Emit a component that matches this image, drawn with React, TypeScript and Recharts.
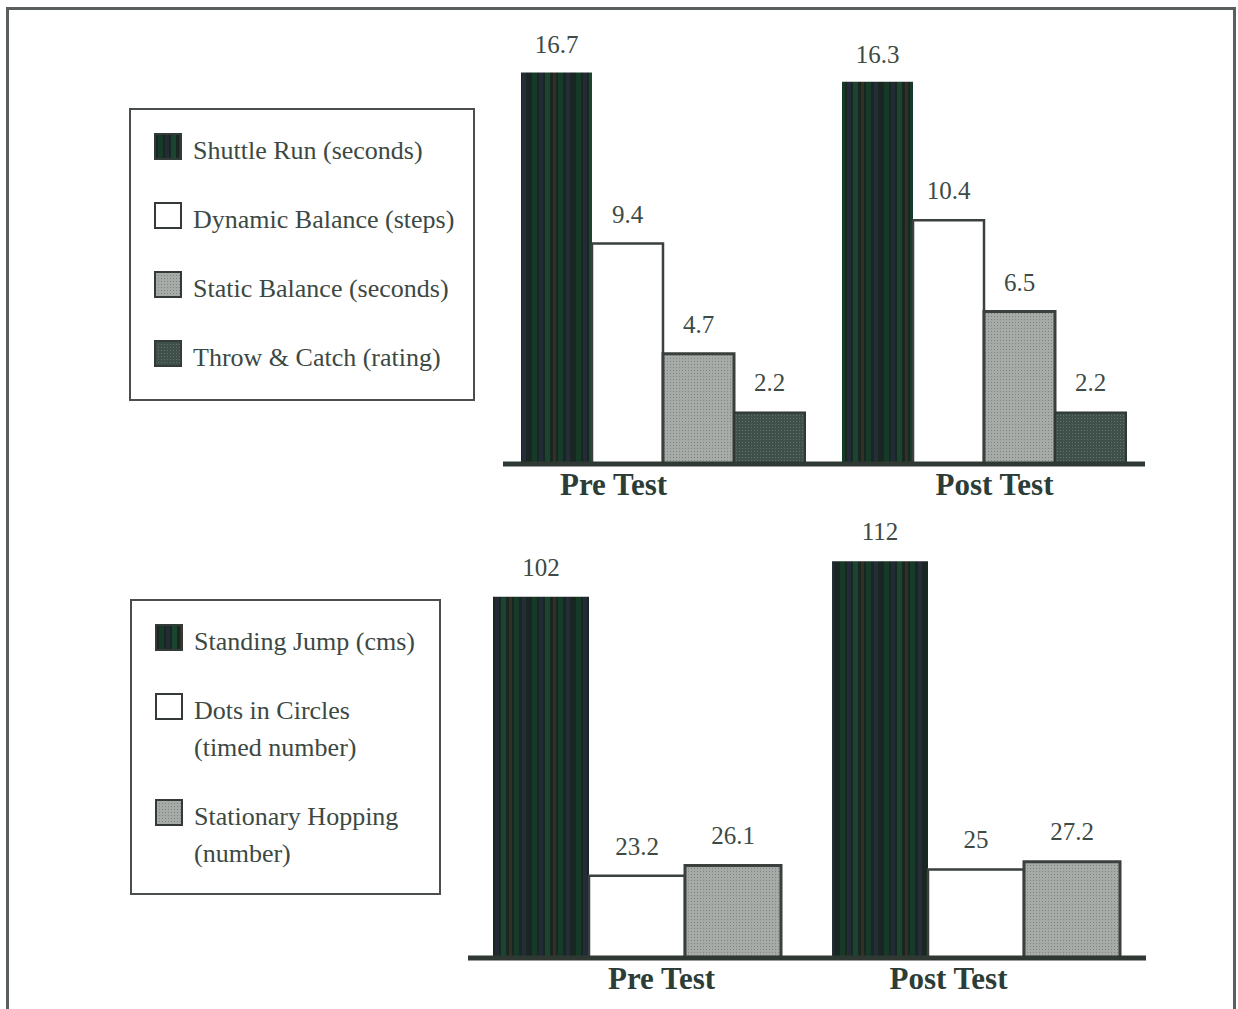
import React from 'react';
import { Bar, BarChart, LabelList, Legend, XAxis, YAxis } from 'recharts';

// categories
const tests = ['Pre Test', 'Post Test'];

// top chart series
const shuttleRun = [16.7, 16.3];
const dynamicBalance = [9.4, 10.4];
const staticBalance = [4.7, 6.5];
const throwCatch = [2.2, 2.2];

// bottom chart series
const standingJump = [102, 112];
const dotsInCircles = [23.2, 25];
const stationaryHopping = [26.1, 27.2];

const topData = tests.map((test, i) => ({
	test,
	shuttle: shuttleRun[i],
	dynamic: dynamicBalance[i],
	static: staticBalance[i],
	throwCatch: throwCatch[i],
}));

const bottomData = tests.map((test, i) => ({
	test,
	jump: standingJump[i],
	dots: dotsInCircles[i],
	hopping: stationaryHopping[i],
}));

const TOP_KEYS = ['shuttle', 'dynamic', 'static', 'throwCatch'];
const BOTTOM_KEYS = ['jump', 'dots', 'hopping'];

const SERIF = '"Liberation Serif", "Times New Roman", serif';
const AXIS = '#2f3833';
const OUTLINE = '#3a403d';
const LABEL = '#3d4a45';

// small nudges so the category labels sit where the original put them
const TOP_TICK_SHIFT = [-50, 10];
const BOTTOM_TICK_SHIFT = [24, -28];

const Patterns = () => (
	<svg width={0} height={0} style={{ position: 'absolute' }}>
		<defs>
			<pattern id='stripes' patternUnits='userSpaceOnUse' width={44} height={8}>
				<rect x={0} y={0} width={44} height={8} fill='#1a2621' />
				<rect x={4} y={0} width={5} height={8} fill='#173a28' />
				<rect x={11} y={0} width={4} height={8} fill='#222b36' />
				<rect x={17} y={0} width={5} height={8} fill='#1a4530' />
				<rect x={25} y={0} width={3} height={8} fill='#35301f' />
				<rect x={30} y={0} width={5} height={8} fill='#163b2a' />
				<rect x={38} y={0} width={4} height={8} fill='#242d38' />
			</pattern>
			<pattern id='grayDots' patternUnits='userSpaceOnUse' width={3} height={3}>
				<rect x={0} y={0} width={3} height={3} fill='#a6aba8' />
				<rect x={1} y={1} width={1} height={1} fill='#7e8582' />
			</pattern>
			<pattern id='darkDots' patternUnits='userSpaceOnUse' width={3} height={3}>
				<rect x={0} y={0} width={3} height={3} fill='#3f4f4a' />
				<rect x={1} y={1} width={1} height={1} fill='#64716c' />
			</pattern>
		</defs>
	</svg>
);

const LegendBox = ({ payload, box, order }: any) => {
	const items = [...(payload || [])].sort((a: any, b: any) => order.indexOf(a.dataKey) - order.indexOf(b.dataKey));
	return (
		<div
			style={{
				boxSizing: 'border-box',
				width: box.width,
				height: box.height,
				border: '2px solid #4a4f4c',
				background: '#fff',
				paddingTop: 22,
				paddingLeft: 23,
				fontFamily: SERIF,
				fontSize: 26,
				lineHeight: '37px',
				color: '#3c4843',
			}}
		>
			{items.map((entry: any) => (
				<div key={entry.value} style={{ display: 'flex', alignItems: 'flex-start', marginBottom: 32 }}>
					<svg width={28} height={27} style={{ flex: 'none', marginTop: 1, marginRight: 11 }}>
						<rect x={1} y={1} width={26} height={25} fill={entry.color} stroke='#333a37' strokeWidth={2} />
					</svg>
					<span style={{ whiteSpace: 'pre-line' }}>{entry.value}</span>
				</div>
			))}
		</div>
	);
};

const XTick = ({ x, y, payload, index, shifts }: any) => (
	<text
		x={x + (shifts[index] || 0)}
		y={y}
		dy={23}
		textAnchor='middle'
		fill='#2c3d38'
		fontFamily={SERIF}
		fontWeight='bold'
		fontSize={31}
	>
		{payload.value}
	</text>
);

const valueLabel = { position: 'top' as const, fill: LABEL, fontSize: 25, fontFamily: SERIF };

const TopChart = () => (
	<BarChart
		width={1238}
		height={520}
		data={topData}
		margin={{ top: 42, right: 93, left: 503, bottom: 0 }}
		barCategoryGap={18}
		barGap={0}
	>
		<XAxis
			dataKey='test'
			height={56}
			tickLine={false}
			axisLine={{ stroke: AXIS, strokeWidth: 5 }}
			tick={(props: any) => <XTick {...props} shifts={TOP_TICK_SHIFT} />}
		/>
		<YAxis domain={[0, 18]} width={0} tick={false} tickLine={false} axisLine={{ stroke: AXIS, strokeWidth: 4 }} />
		<Legend
			layout='vertical'
			align='center'
			verticalAlign='middle'
			wrapperStyle={{ left: 129, top: 108, width: 346, height: 293 }}
			content={(props: any) => <LegendBox {...props} order={TOP_KEYS} box={{ width: 346, height: 293 }} />}
		/>
		<Bar dataKey='shuttle' name='Shuttle Run (seconds)' fill='url(#stripes)' isAnimationActive={false}>
			<LabelList dataKey='shuttle' offset={19} {...valueLabel} />
		</Bar>
		<Bar dataKey='dynamic' name='Dynamic Balance (steps)' fill='#ffffff' stroke={OUTLINE} strokeWidth={2.5} isAnimationActive={false}>
			<LabelList dataKey='dynamic' offset={21} {...valueLabel} />
		</Bar>
		<Bar dataKey='static' name='Static Balance (seconds)' fill='url(#grayDots)' stroke={OUTLINE} strokeWidth={3} isAnimationActive={false}>
			<LabelList dataKey='static' offset={21} {...valueLabel} />
		</Bar>
		<Bar dataKey='throwCatch' name='Throw & Catch (rating)' fill='url(#darkDots)' stroke='#2f3833' strokeWidth={2} isAnimationActive={false}>
			<LabelList dataKey='throwCatch' offset={21} {...valueLabel} />
		</Bar>
	</BarChart>
);

const BottomChart = () => (
	<BarChart
		width={1238}
		height={540}
		data={bottomData}
		margin={{ top: 53, right: 92, left: 468, bottom: 0 }}
		barCategoryGap={25}
		barGap={0}
	>
		<XAxis
			dataKey='test'
			height={62}
			tickLine={false}
			axisLine={{ stroke: AXIS, strokeWidth: 5 }}
			tick={(props: any) => <XTick {...props} shifts={BOTTOM_TICK_SHIFT} />}
		/>
		<YAxis domain={[0, 120]} width={0} tick={false} tickLine={false} axisLine={{ stroke: AXIS, strokeWidth: 4 }} />
		<Legend
			layout='vertical'
			align='center'
			verticalAlign='middle'
			wrapperStyle={{ left: 130, top: 119, width: 311, height: 296 }}
			content={(props: any) => <LegendBox {...props} order={BOTTOM_KEYS} box={{ width: 311, height: 296 }} />}
		/>
		<Bar dataKey='jump' name='Standing Jump (cms)' fill='url(#stripes)' isAnimationActive={false}>
			<LabelList dataKey='jump' offset={21} {...valueLabel} />
		</Bar>
		<Bar dataKey='dots' name={'Dots in Circles\n(timed number)'} fill='#ffffff' stroke={OUTLINE} strokeWidth={2.5} isAnimationActive={false}>
			<LabelList dataKey='dots' offset={21} {...valueLabel} />
		</Bar>
		<Bar dataKey='hopping' name={'Stationary Hopping\n(number)'} fill='url(#grayDots)' stroke={OUTLINE} strokeWidth={3} isAnimationActive={false}>
			<LabelList dataKey='hopping' offset={22} {...valueLabel} />
		</Bar>
	</BarChart>
);

export default function App() {
	return (
		<div style={{ position: 'absolute', left: 0, top: 0, width: 1238, height: 1009, overflow: 'hidden', background: '#fff' }}>
			<Patterns />
			<div
				style={{
					position: 'absolute',
					left: 6,
					top: 7,
					width: 1230,
					height: 1100,
					boxSizing: 'border-box',
					border: '3px solid #5a5f5c',
				}}
			/>
			<div style={{ position: 'absolute', left: 0, top: 0 }}>
				<TopChart />
			</div>
			<div style={{ position: 'absolute', left: 0, top: 480 }}>
				<BottomChart />
			</div>
		</div>
	);
}
